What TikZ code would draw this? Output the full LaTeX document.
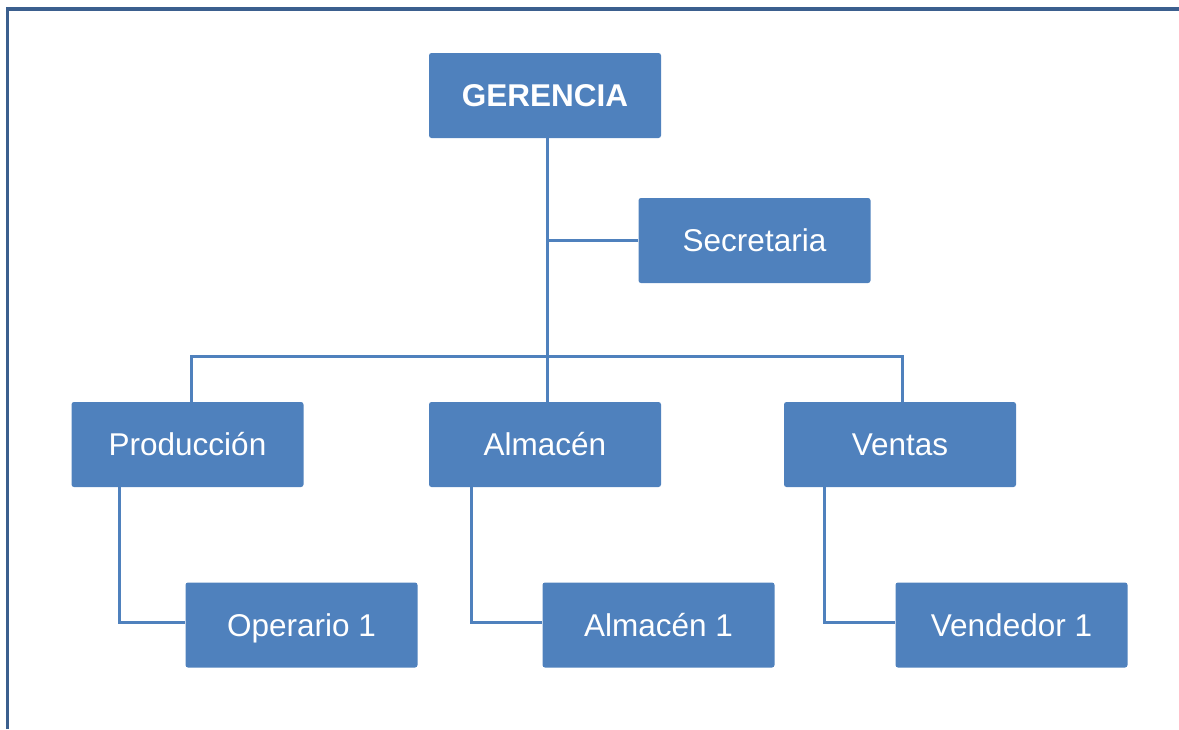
\documentclass[tikz,border=0pt]{standalone}
\usepackage{fontspec}
\setmainfont{Liberation Sans}
\usepackage{xcolor}
\usetikzlibrary{positioning}

\definecolor{boxblue}{HTML}{4F81BD}
\definecolor{framblue}{HTML}{3B5F8E}

\tikzset{
  box/.style={fill=boxblue, rounded corners=2.5pt, minimum width=232pt,
    minimum height=85pt, inner sep=0pt, text=white,
    text height=22.5pt, text depth=0pt,
    font=\fontsize{31.5}{36}\selectfont},
  link/.style={draw=boxblue, line width=3pt},
  frame/.style={draw=framblue, line width=3.5pt}
}

\begin{document}
\begin{tikzpicture}[x=1pt,y=-1pt]
  \useasboundingbox (0,0) rectangle (1179,729);

  % Outer frame
  \draw[frame] (7.5,729) |- (1179,9);

  % Boxes
  \node[box, font=\fontsize{31.5}{36}\selectfont\bfseries] (ger) at (545,95.5) {GERENCIA};
  \node[box] (sec) at (754.5,240.5) {Secretaria};
  \node[box] (prod) at (187.5,444.5) {Producción};
  \node[box] (alm) at (545,444.5) {Almacén};
  \node[box] (vent) at (900,444.5) {Ventas};
  \node[box] (op1) at (301.5,625) {Operario 1};
  \node[box] (alm1) at (658.5,625) {Almacén 1};
  \node[box] (vend1) at (1011.5,625) {Vendedor 1};

  % Connectors
  \coordinate (spine) at ([xshift=2pt]ger.south);
  \draw[link] (spine) -- ([xshift=2pt]alm.north);
  \draw[link] (sec.west) -- (sec.west -| spine);
  \draw[link] ([xshift=4pt]prod.north) -- ++(0,-45) -| ([xshift=2pt]vent.north);
  \draw[link] ([xshift=48pt]prod.south west) |- ([yshift=3pt]op1.west);
  \draw[link] ([xshift=43pt]alm.south west) |- ([yshift=3pt]alm1.west);
  \draw[link] ([xshift=41pt]vent.south west) |- ([yshift=3pt]vend1.west);
\end{tikzpicture}
\end{document}
